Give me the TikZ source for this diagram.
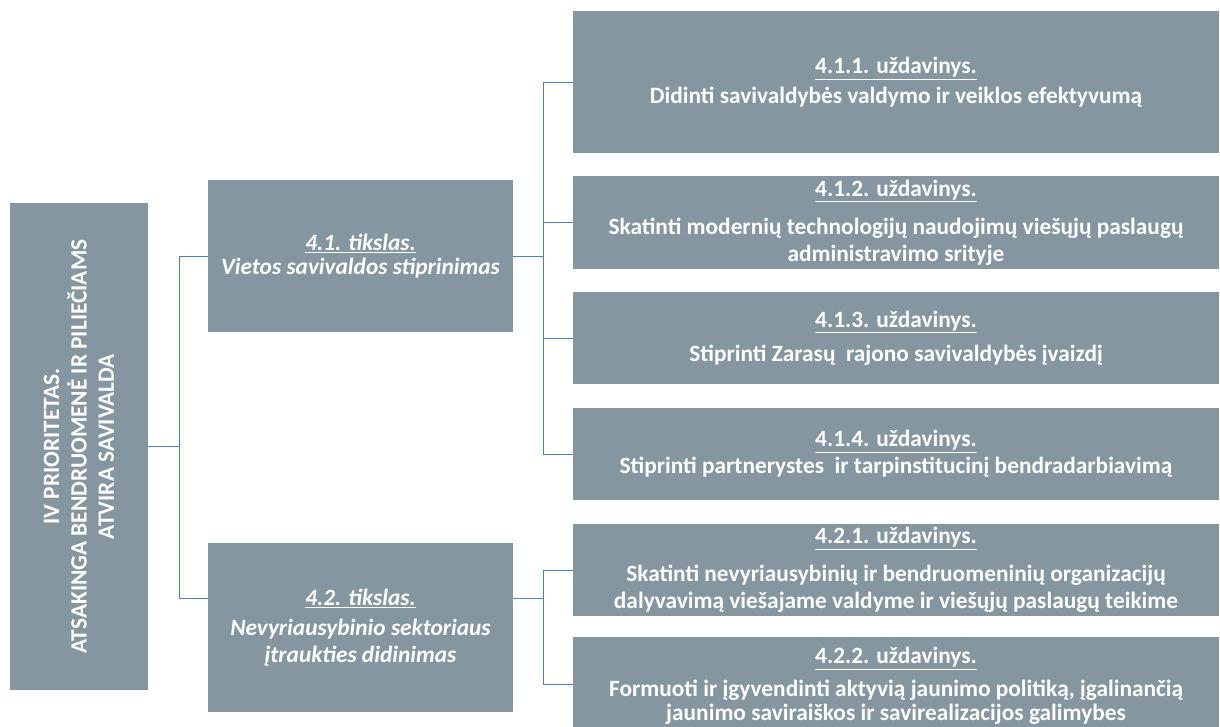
\documentclass[tikz,border=0pt]{standalone}
\usepackage{fontspec}
\setmainfont{Carlito}
\usetikzlibrary{positioning, calc}
\definecolor{boxgray}{RGB}{134,150,160}
\definecolor{linkblue}{RGB}{79,124,196}

\begin{document}
\begin{tikzpicture}[x=0.75pt, y=-0.75pt]
        \tikzstyle{box}=[fill=boxgray, text=white, align=center, inner sep=0pt, font=\fontsize{17.5}{20.5}\selectfont\bfseries]
        \tikzstyle{goalbox}=[box, minimum width=228.75pt, font=\fontsize{17.5}{20.5}\selectfont\bfseries\itshape]
        \tikzstyle{taskbox}=[box, minimum width=484.5pt]
        \tikzstyle{link}=[linkblue, line width=0.7pt]

        \useasboundingbox (0,0) rectangle (1220,727);

        % Priority
        \node[box, rotate=90, minimum width=365.25pt, minimum height=103.5pt] (prio) at (79,446.5)
            {IV PRIORITETAS.\\ATSAKINGA BENDRUOMENĖ IR PILIEČIAMS\\ATVIRA SAVIVALDA};

        % Goals
        \node[goalbox, minimum height=114pt] (g1) at (360.5,256)
            {\underline{4.1. tikslas.}\\[-2pt]Vietos savivaldos stiprinimas};
        \node[goalbox, minimum height=126.75pt] (g2) at (360.5,627.5)
            {\underline{4.2. tikslas.}\\[2pt]Nevyriausybinio sektoriaus\\įtraukties didinimas};
        \coordinate (g2in) at ([yshift=22pt]g2.west);
        \coordinate (g2out) at ([yshift=22pt]g2.east);

        % Tasks
        \node[taskbox, minimum height=106.5pt] (t1) at (896,82)
            {\underline{4.1.1. uždavinys.}\\[2pt]Didinti savivaldybės valdymo ir veiklos efektyvumą};
        \node[taskbox, minimum height=69.75pt] (t2) at (896,222.5)
            {\underline{4.1.2. uždavinys.}\\[8pt]Skatinti modernių technologijų naudojimų viešųjų paslaugų\\administravimo srityje};
        \node[taskbox, minimum height=69pt] (t3) at (896,338)
            {\underline{4.1.3. uždavinys.}\\[5pt]Stiprinti Zarasų~ rajono savivaldybės įvaizdį};
        \node[taskbox, minimum height=69pt] (t4) at (896,454)
            {\underline{4.1.4. uždavinys.}\\Stiprinti partnerystes~ ir tarpinstitucinį bendradarbiavimą};
        \node[taskbox, minimum height=69pt] (t5) at (896,570)
            {\underline{4.2.1. uždavinys.}\\[8pt]Skatinti nevyriausybinių ir bendruomeninių organizacijų\\dalyvavimą viešajame valdyme ir viešųjų paslaugų teikime};
        \node[taskbox, minimum height=71.25pt, text depth=0pt] (t6) at (896,684)
            {\underline{4.2.2. uždavinys.}\\[4pt]Formuoti ir įgyvendinti aktyvią jaunimo politiką, įgalinančią\\[-2pt]jaunimo saviraiškos ir savirealizacijos galimybes};

        % Connectors
        \draw[link] (prio.south) -- ++(31,0) |- (g1.west);
        \draw[link] (prio.south) -- ++(31,0) |- (g2in);
        \foreach \t in {t1,t2,t3,t4}
            \draw[link] (g1.east) -- ++(30,0) |- (\t.west);
        \foreach \t in {t5,t6}
            \draw[link] (g2out) -- ++(30,0) |- (\t.west);
\end{tikzpicture}
\end{document}
